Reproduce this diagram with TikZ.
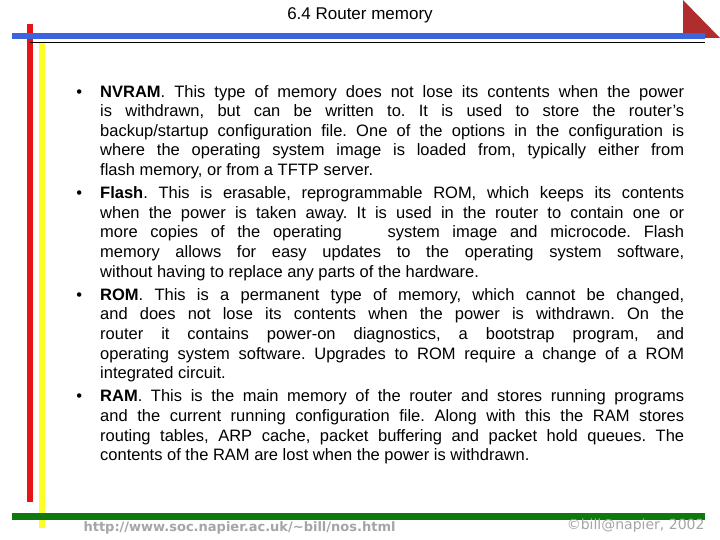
\documentclass[tikz,border=0pt]{standalone}
\usepackage{fontspec}
\setmainfont{Liberation Sans}
\newfontfamily\footfont{DejaVu Sans}
\definecolor{barblue}{RGB}{60,100,220}
\definecolor{barred}{RGB}{230,20,20}
\definecolor{baryellow}{RGB}{255,255,40}
\definecolor{bargreen}{RGB}{15,120,15}
\definecolor{tri}{RGB}{175,45,45}
\definecolor{foot}{RGB}{165,165,165}
\newcommand{\bul}{\leavevmode\llap{\textbullet\hspace{18pt}}}
\newcommand{\nl}{\linebreak}
\begin{document}
\begin{tikzpicture}[x=1pt,y=-1pt,
  body/.style={anchor=north west,inner sep=0pt,text width=584pt,align=justify,font=\fontsize{16.5}{19.6}\selectfont}]
\useasboundingbox[fill=white] (0,0) rectangle (720,540);
\fill[tri] (683,0) -- (720,38) -- (683,38) -- cycle;
\fill[barred] (27,24) rectangle (33,502);
\fill[baryellow] (39,42) rectangle (45,528);
\fill[barblue] (12,33) rectangle (705,39);
\draw[black,line width=0.8pt] (30,42) -- (705,42);
\fill[bargreen] (12,513) rectangle (705,520);
\node[font=\fontsize{17}{20}\selectfont] (title) at (360,15) {6.4 Router memory};
\node[body] (txt) at (100,85) {%
\setlength{\parskip}{3.6pt}\setlength{\parindent}{0pt}\hyphenpenalty=10000\exhyphenpenalty=10000\frenchspacing\hbadness=10000\hfuzz=30pt%
\bul\textbf{NVRAM}. This type of memory does not lose its contents when the power\nl is withdrawn, but can be written to. It is used to store the router’s\nl backup/startup configuration file. One of the options in the configuration is\nl where the operating system image is loaded from, typically either from\nl flash memory, or from a TFTP server.\par
\bul\textbf{Flash}. This is erasable, reprogrammable ROM, which keeps its contents\nl when the power is taken away. It is used in the router to contain one or\nl more copies of the operating\hspace{2em} system image and microcode. Flash\nl memory allows for easy updates to the operating system software,\nl without having to replace any parts of the hardware.\par
\bul\textbf{ROM}. This is a permanent type of memory, which cannot be changed,\nl and does not lose its contents when the power is withdrawn. On the\nl router it contains power-on diagnostics, a bootstrap program, and\nl operating system software. Upgrades to ROM require a change of a ROM\nl integrated circuit.\par
\bul\textbf{RAM}. This is the main memory of the router and stores running programs\nl and the current running configuration file. Along with this the RAM stores\nl routing tables, ARP cache, packet buffering and packet hold queues. The\nl contents of the RAM are lost when the power is withdrawn.\par};
\node[anchor=base west,text=foot,font=\footfont\bfseries\fontsize{13}{15}\selectfont] (url) at (80,531) {http://www.soc.napier.ac.uk/\textasciitilde bill/nos.html};
\node[anchor=base east,text=foot,font=\footfont\fontsize{14}{16}\selectfont] (copy) at (708,529) {©bill@napier, 2002};
\end{tikzpicture}
\end{document}
